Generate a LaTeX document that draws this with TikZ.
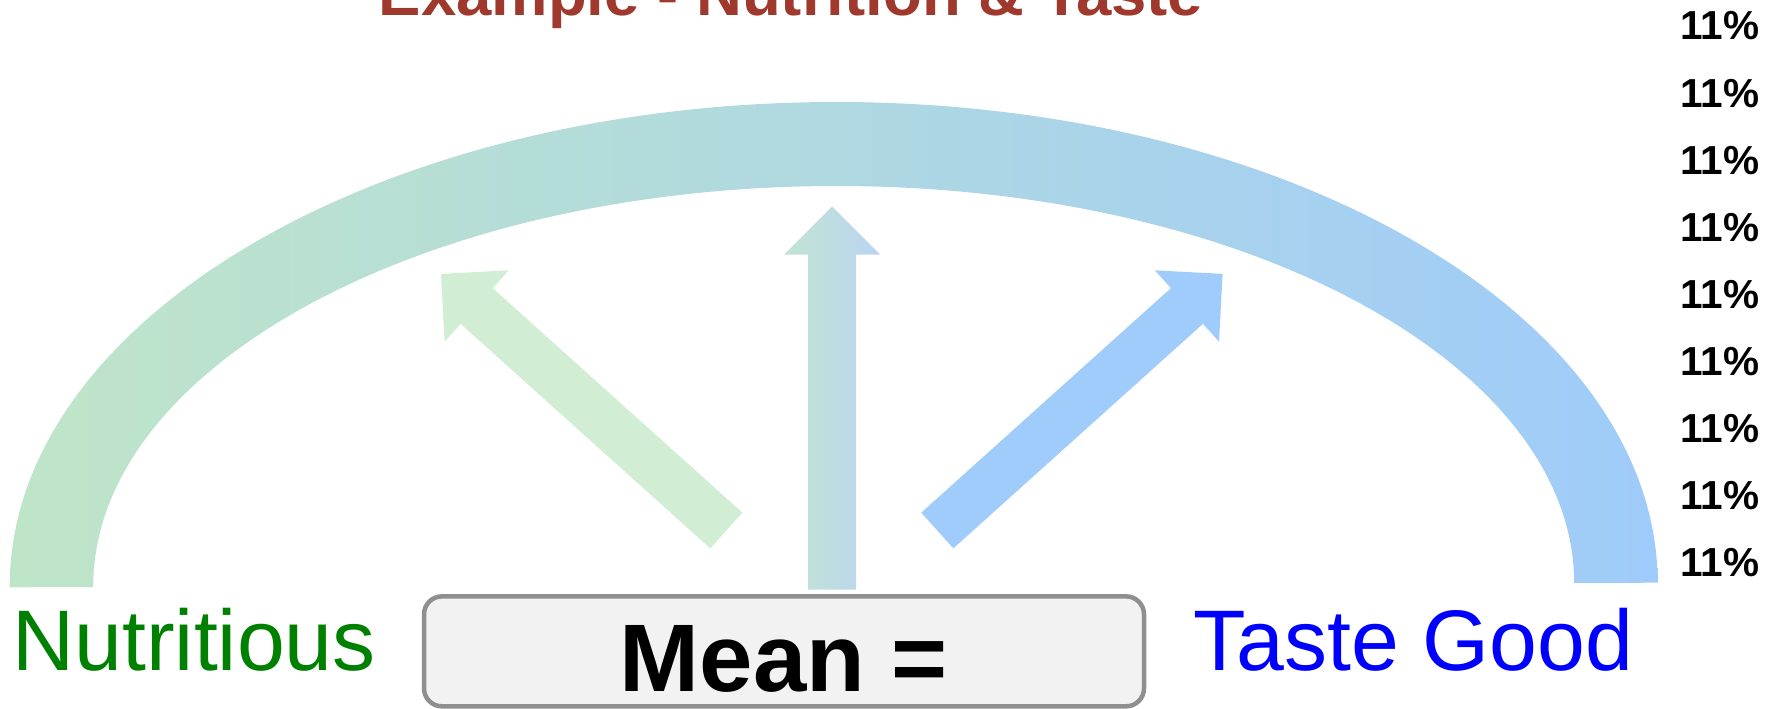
\documentclass[tikz,border=0pt]{standalone}
\usepackage{fontspec}
\setmainfont{Liberation Sans}
\usetikzlibrary{calc}
\definecolor{titlered}{RGB}{160,57,45}
\definecolor{arcL}{RGB}{191,229,200}
\definecolor{arcR}{RGB}{159,203,250}
\definecolor{arrL}{RGB}{209,237,211}
\definecolor{arrR}{RGB}{160,204,252}
\definecolor{midL}{RGB}{193,228,210}
\definecolor{midR}{RGB}{187,212,242}
\definecolor{boxfill}{RGB}{242,242,242}
\definecolor{boxline}{RGB}{143,143,143}
\definecolor{nutgreen}{RGB}{0,128,0}
\definecolor{tasteblue}{RGB}{0,0,255}
\newcommand{\blkarrow}[3]{%
  \coordinate (#2-h) at ($(#3)!48pt!(#2)$);
  \path[#1] ($(#2)!24pt!90:(#3)$) -- ($(#2-h)!24pt!90:(#3)$) -- ($(#2-h)!48pt!90:(#3)$)
    -- (#3) -- ($(#2-h)!48pt!-90:(#3)$) -- ($(#2-h)!24pt!-90:(#3)$) -- ($(#2)!24pt!-90:(#3)$) -- cycle;
}
\begin{document}
\begin{tikzpicture}[x=1pt,y=-1pt,
  every node/.style={inner sep=0pt, outer sep=0pt},
  titletext/.style={font=\fontsize{63.5}{70}\selectfont\bfseries, text=titlered, anchor=base},
  pct/.style={font=\fontsize{40.5}{44}\selectfont\bfseries, text=black, anchor=base east},
  sidelabel/.style={font=\fontsize{86}{90}\selectfont, anchor=base west},
  meanbox/.style={draw=boxline, line width=4.5pt, fill=boxfill, rounded corners=18pt,
    minimum width=720pt, minimum height=110pt},
  meantext/.style={font=\fontsize{96}{100}\selectfont\bfseries, text=black, anchor=base}]
\useasboundingbox (0,0) rectangle (1765,709);

% big block arc
\begin{scope}[rotate around={0.16:(833.7,585)}]
\shade[left color=arcL, right color=arcR]
  (9.7,585) .. controls (9.7,318.2) and (378.6,102) .. (833.7,102)
  .. controls (1288.8,102) and (1657.7,318.2) .. (1657.7,585)
  -- (1574.2,585) .. controls (1574.2,364.6) and (1242.7,186) .. (833.7,186)
  .. controls (424.7,186) and (93.2,364.6) .. (93.2,585) -- cycle;
\end{scope}

% arrows
\coordinate (lt) at (726.3,530.5);
\coordinate (lp) at (441,273.9);
\coordinate (rt) at (937.3,530.5);
\coordinate (rp) at (1222.6,273.9);
\coordinate (ct) at (832,589.5);
\coordinate (cp) at (832,206.5);
\blkarrow{fill=arrL}{lt}{lp}
\blkarrow{fill=arrR}{rt}{rp}
\blkarrow{left color=midL, right color=midR}{ct}{cp}

% title
\node[titletext] (title) at (791,16) {Example - Nutrition \& Taste};

% percentages
\foreach \i in {0,...,8}
  \node[pct] (p\i) at (1759,{40+67*\i}) {11\%};

% bottom labels
\node[sidelabel, text=nutgreen] (nut) at (12.5,670.5) {Nutritious};
\node[sidelabel, text=tasteblue] (taste) at (1193.5,670.5) {Taste Good};
\node[meanbox] (mean) at (784,651.35) {};
\node[meantext] (meanlbl) at (784,691) {Mean =};
\end{tikzpicture}
\end{document}
